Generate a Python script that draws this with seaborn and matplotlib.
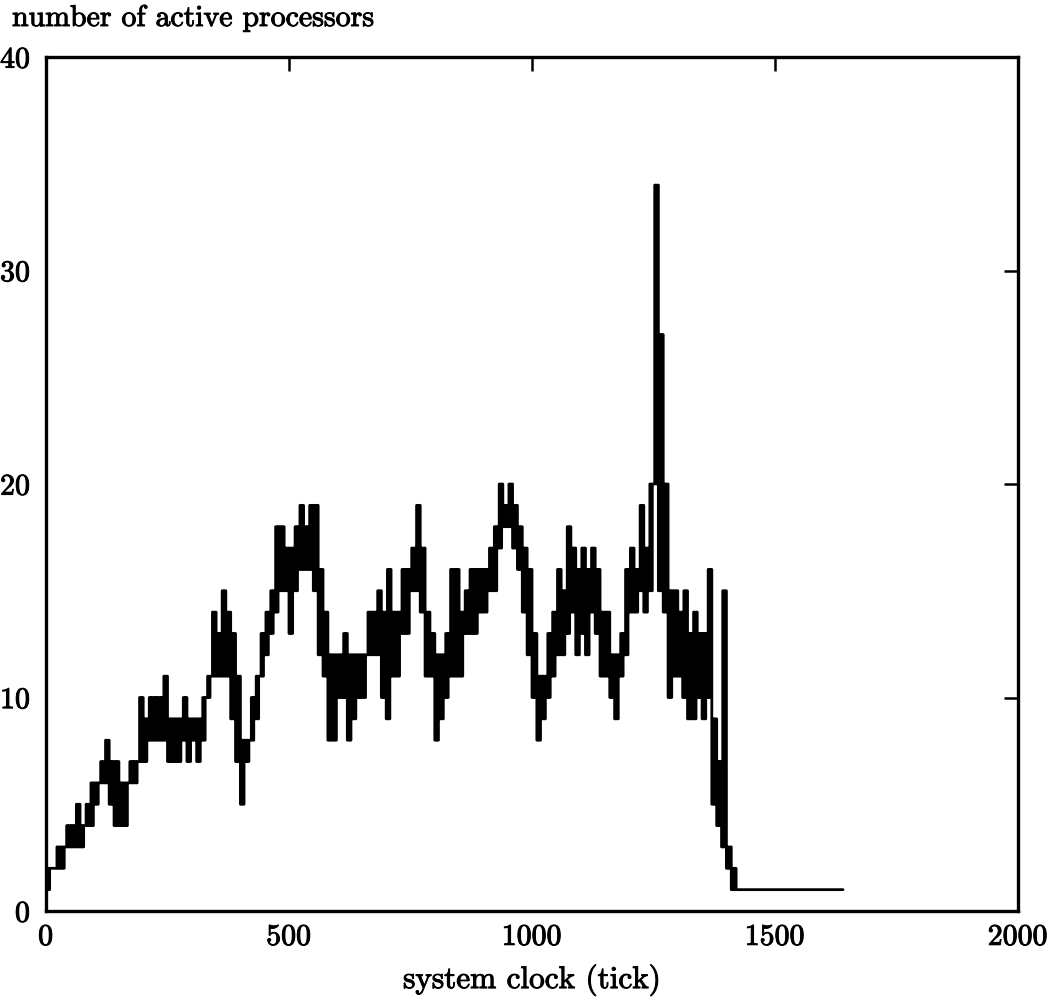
import numpy as np
import pandas as pd
import matplotlib
matplotlib.use("Agg")
import matplotlib.pyplot as plt
import matplotlib.patheffects as pe
import seaborn as sns

# Processor activity per 10-tick window: lowest and highest counts seen
bin_start = list(range(0, 1430, 10))
bin_low = [
    1, 2, 2, 2, 3, 3, 3, 3, 4, 4,        # 0-99
    5, 6, 6, 5, 4, 4, 4, 6, 6, 7,        # 100-199
    7, 8, 8, 8, 8, 7, 7, 7, 8, 7,        # 200-299
    8, 7, 8, 10, 11, 11, 11, 11, 9, 7,   # 300-399
    5, 7, 8, 9, 11, 12, 13, 14, 15, 15,  # 400-499
    13, 15, 16, 16, 16, 15, 12, 11, 8, 8,  # 500-599
    10, 10, 8, 9, 10, 10, 12, 12, 12, 10,  # 600-699
    9, 11, 11, 13, 13, 15, 15, 14, 11, 11,  # 700-799
    8, 9, 10, 11, 11, 11, 13, 13, 13, 14,  # 800-899
    14, 15, 15, 17, 18, 18, 17, 16, 14, 12,  # 900-999
    10, 8, 9, 10, 11, 12, 12, 13, 14, 12,  # 1000-1099
    13, 12, 14, 13, 11, 11, 10, 9, 11, 12,  # 1100-1199
    14, 14, 15, 14, 15, 20, 15, 14, 10, 11,  # 1200-1299
    11, 10, 9, 9, 10, 9, 10, 5, 4, 3,    # 1300-1399
    2, 1, 1,                             # 1400-1429
]
bin_high = [
    2, 2, 3, 3, 4, 4, 5, 4, 5, 6,
    6, 7, 8, 7, 7, 6, 6, 7, 7, 10,
    9, 10, 10, 10, 11, 9, 9, 9, 10, 9,
    9, 9, 10, 11, 14, 13, 15, 14, 13, 11,
    8, 8, 10, 11, 13, 14, 15, 18, 18, 17,
    17, 18, 19, 18, 19, 19, 16, 14, 12, 12,
    12, 13, 12, 12, 12, 12, 14, 14, 15, 14,
    16, 14, 14, 16, 16, 17, 19, 17, 14, 13,
    12, 12, 13, 16, 16, 14, 15, 16, 16, 16,
    16, 17, 18, 20, 19, 20, 19, 18, 17, 16,
    13, 11, 11, 13, 14, 16, 15, 18, 17, 16,
    17, 16, 17, 16, 14, 14, 12, 12, 13, 16,
    17, 16, 19, 17, 20, 34, 27, 20, 15, 15,
    14, 15, 13, 14, 13, 13, 16, 9, 7, 15,
    3, 2, 1,
]
# Idle tail: a single processor stays active until the run ends
tail_ticks = [1430, 1640]
tail_values = [1, 1]

# Each window alternates between its extremes, as the counter flickers
ticks, active = [], []
for t0, lo, hi in zip(bin_start, bin_low, bin_high):
    for k, v in enumerate((lo, hi, lo, hi)):
        ticks.append(t0 + 2.5 * k)
        active.append(v)
ticks += tail_ticks
active += tail_values
df = pd.DataFrame({"tick": ticks, "active": active})

sns.set_theme(style="white")
plt.rcParams["font.family"] = ["cmr10", "DejaVu Serif"]
plt.rcParams["axes.formatter.use_mathtext"] = True

ink = [pe.withStroke(linewidth=0.7, foreground="black")]

fig = plt.figure(figsize=(10.59, 10.01), dpi=100)
ax = fig.add_axes([46 / 1059, 1 - 911 / 1001, (1018 - 46) / 1059, (911 - 57) / 1001])

sns.lineplot(data=df, x="tick", y="active", drawstyle="steps-post",
             color="black", linewidth=2.0, estimator=None, sort=False, ax=ax)

ax.set_xlim(0, 2000)
ax.set_ylim(0, 40)
ax.set_xticks([0, 500, 1000, 1500, 2000])
ax.set_yticks([0, 10, 20, 30, 40])
ax.tick_params(direction="in", length=10, width=1.8, top=True, right=True,
               labelsize=21.5, colors="black", pad=9)
ax.tick_params(axis="y", pad=11)
for lab in ax.get_xticklabels() + ax.get_yticklabels():
    lab.set_path_effects(ink)
for side in ax.spines.values():
    side.set_color("black")
    side.set_linewidth(2.4)

ax.set_xlabel("system clock (tick)", fontsize=22.5, labelpad=10, color="black",
              path_effects=ink)
ax.set_ylabel("")
fig.text(12 / 1059, 1 - 18 / 1001, "number of active processors",
         fontsize=21.5, va="center", ha="left", color="black", path_effects=ink)

fig.savefig("out.png", dpi=100, facecolor="white")
